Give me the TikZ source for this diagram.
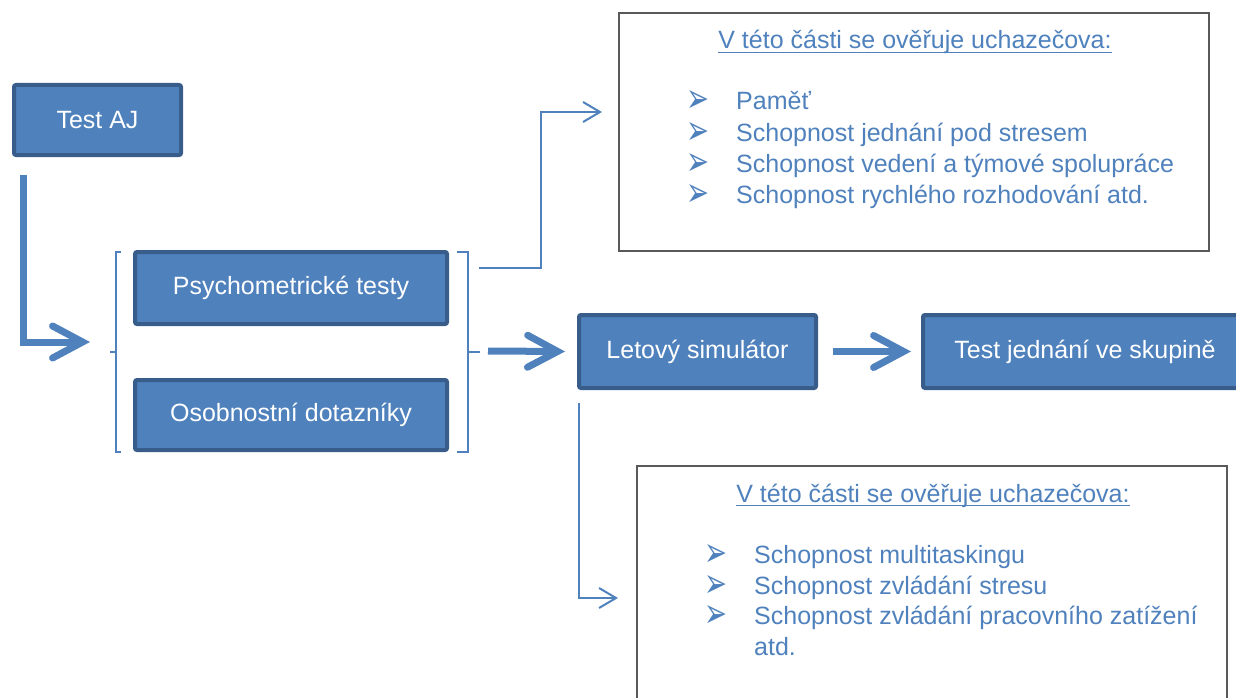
\documentclass[tikz,border=0pt]{standalone}
\usepackage{fontspec}
\usepackage{graphicx}
\setmainfont{Liberation Sans}
\newfontfamily\symfont{DejaVu Sans}
\usetikzlibrary{arrows.meta}
\definecolor{bfill}{HTML}{4F81BD}
\definecolor{bline}{HTML}{385D8A}
\definecolor{txtblue}{HTML}{4F81BD}
\definecolor{framegray}{HTML}{595959}
\newcommand{\mybul}{\resizebox{23pt}{22pt}{➢}}
\tikzset{
 box/.style={draw=bline, fill=bfill, line width=4pt, rounded corners=2pt, text=white, font=\fontsize{25}{30}\selectfont, inner sep=0pt},
 infobox/.style={draw=framegray, line width=1.5pt, fill=white, inner sep=0pt},
 bigarrow/.style={draw=bfill, line width=7pt, -{Straight Barb[length=30pt,width=32pt,line cap=round]}},
 thinarrow/.style={draw=bfill, line width=2pt, -{Straight Barb[length=17pt,width=20pt]}},
 bracestyle/.style={draw=bfill, line width=1.8pt},
 itemtext/.style={text=txtblue, font=\fontsize{25}{30}\selectfont, anchor=base west, inner sep=0pt},
 bullet/.style={text=txtblue, font=\symfont, anchor=center, inner sep=0pt},
 hdr/.style={text=txtblue, font=\fontsize{25}{30}\selectfont, anchor=base, inner sep=0pt},
 uline/.style={draw=txtblue, line width=1.5pt},
}
\begin{document}
\begin{tikzpicture}[x=1pt,y=-1pt]
\useasboundingbox (0,0) rectangle (1236,698);
\clip (0,0) rectangle (1236,698);

% info boxes
\node[infobox, minimum width=590, minimum height=238] (topinfo) at (914,132) {};
\node[infobox, minimum width=590, minimum height=254] (botinfo) at (932,593) {};

% main boxes
\node[box, minimum width=167, minimum height=70] (taj) at (97.5,120) {Test AJ};
\node[box, minimum width=312, minimum height=72] (psy) at (291,288) {Psychometrické testy};
\node[box, minimum width=312, minimum height=70] (oso) at (291,415) {Osobnostní dotazníky};
\node[box, minimum width=237, minimum height=73] (let) at (697.5,351.5) {Letový simulátor};
\node[box, minimum width=324, minimum height=73] (tjs) at (1085,351.5) {Test jednání ve skupině};

% braces
\draw[bracestyle] (121,252) -- (116,252) -- (116,452) -- (121,452);
\draw[bracestyle] (116,352) -- (110,352);
\draw[bracestyle] (457,252) -- (468,252) -- (468,452) -- (457,452);
\draw[bracestyle] (468,352) -- (480,352);
\coordinate (lb) at (110,352);
\coordinate (rb) at (488,351);

% big arrows
\coordinate (a0) at (23,175);
\coordinate (a1) at (90,342);
\draw[bigarrow] (a0) |- (a1);
\draw[bigarrow] (rb) -- ([xshift=-12pt]let.west);
\draw[bigarrow] ([xshift=15pt]let.east) -- ([xshift=-10pt]tjs.west);

% thin arrows
\coordinate (t0) at (479,268);
\coordinate (t1) at (602,112);
\draw[thinarrow] (t0) -- (541,268) |- (t1);
\coordinate (b0) at (579,403);
\coordinate (b1) at (618,598);
\draw[thinarrow] (b0) |- (b1);

% top info text
\node[hdr] (h1) at (915,49) {V této části se ověřuje uchazečova:};
\draw[uline] ([yshift=-3.5pt]h1.base west) -- ([yshift=-3.5pt]h1.base east);
\node[bullet] (tb1) at (698,102) {\mybul};
\node[bullet] (tb2) at (698,133) {\mybul};
\node[bullet] (tb3) at (698,164) {\mybul};
\node[bullet] (tb4) at (698,195) {\mybul};
\node[itemtext] (ti1) at (736,110) {Paměť};
\node[itemtext] (ti2) at (736,141) {Schopnost jednání pod stresem};
\node[itemtext] (ti3) at (736,172) {Schopnost vedení a týmové spolupráce};
\node[itemtext] (ti4) at (736,203) {Schopnost rychlého rozhodování atd.};

% bottom info text
\node[hdr] (h2) at (933,502) {V této části se ověřuje uchazečova:};
\draw[uline] ([yshift=-3.5pt]h2.base west) -- ([yshift=-3.5pt]h2.base east);
\node[bullet] (bb1) at (716,555) {\mybul};
\node[bullet] (bb2) at (716,586) {\mybul};
\node[bullet] (bb3) at (716,616) {\mybul};
\node[itemtext] (bi1) at (754,563) {Schopnost multitaskingu};
\node[itemtext] (bi2) at (754,594) {Schopnost zvládání stresu};
\node[itemtext] (bi3) at (754,624) {Schopnost zvládání pracovního zatížení};
\node[itemtext] (bi4) at (754,655) {atd.};
\end{tikzpicture}
\end{document}
